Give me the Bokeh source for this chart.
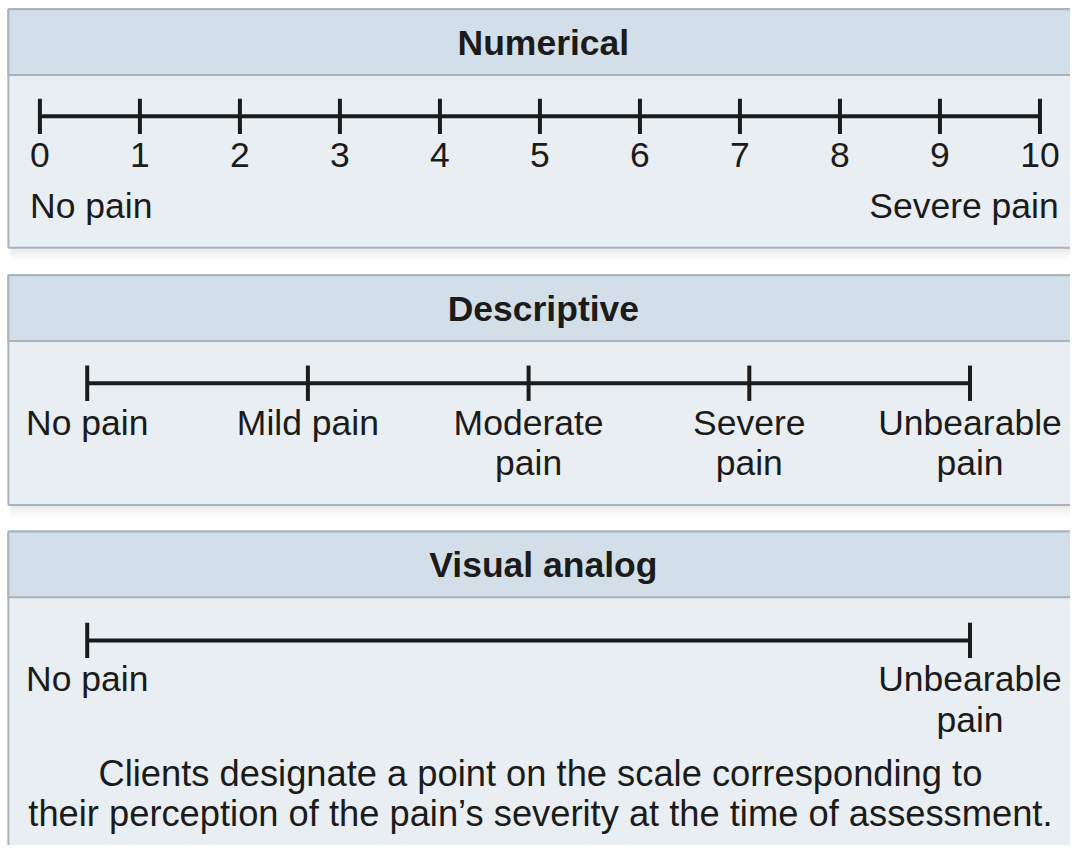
from bokeh.plotting import figure
from bokeh.models import Range1d
from bokeh.embed import file_html
from bokeh.resources import INLINE
from bokeh.core.properties import value

# ---------------- data ----------------
panel_titles = ["Numerical", "Descriptive", "Visual analog"]

numeric_values = [0, 1, 2, 3, 4, 5, 6, 7, 8, 9, 10]
numeric_labels = ["0", "1", "2", "3", "4", "5", "6", "7", "8", "9", "10"]
numeric_end_labels = ["No pain", "Severe pain"]

descriptive_levels = [0, 1, 2, 3, 4]
descriptive_line1 = ["No pain", "Mild pain", "Moderate", "Severe", "Unbearable"]
descriptive_line2 = ["", "", "pain", "pain", "pain"]

visual_ends = [0.0, 1.0]
visual_line1 = ["No pain", "Unbearable"]
visual_line2 = ["", "pain"]

footer_lines = [
    "Clients designate a point on the scale corresponding to",
    "their perception of the pain\u2019s severity at the time of assessment.",
]

# ---------------- style / layout ----------------
FONT = value("Liberation Sans")
INK = "#1b1b1b"
HEADER_FILL = "#d3dfe8"
BODY_FILL = "#e9eef2"
BORDER = "#a7b3bf"

W, H = 1070, 845
REF_W, REF_H = 1086, 861
S = W / REF_W
FS = f"{36 * S:.1f}px"
TFS = f"{36 * S:.1f}px"
FFS = f"{36.8 * S:.1f}px"

p = figure(width=W, height=H, x_range=Range1d(0, REF_W), y_range=Range1d(REF_H, 0),
           output_backend="svg", toolbar_location=None, min_border=0,
           background_fill_color="white", border_fill_color="white")
p.axis.visible = False
p.grid.visible = False
p.outline_line_color = None

# panels: (top, header bottom, bottom)
panels = [(9, 76, 252), (280, 347, 514), (541, 608, 900)]
for (top, hb, bot), title in zip(panels, panel_titles):
    for k, a in enumerate([0.05, 0.04, 0.03, 0.02]):
        p.quad(left=10, right=1100, top=bot, bottom=bot + 4 + 3 * k,
               fill_color="#7a7a7a", fill_alpha=a, line_color=None)
    p.quad(left=8, right=1100, top=top, bottom=bot, fill_color=BODY_FILL,
           line_color=BORDER, line_width=2)
    p.quad(left=8, right=1100, top=top, bottom=hb, fill_color=HEADER_FILL,
           line_color=BORDER, line_width=2)
    p.text(x=[551], y=[(top + hb) / 2 + 1], text=[title], text_font=FONT,
           text_font_style="bold", text_font_size=TFS, text_color=INK,
           text_align="center", text_baseline="middle")

LW = 4
TICK = 18

# ---- Numerical scale ----
nx0, nstep, ny = 40, 101.5, 118
nxs = [nx0 + v * nstep for v in numeric_values]
p.segment(x0=[nxs[0]], y0=[ny], x1=[nxs[-1]], y1=[ny], line_width=LW, line_color=INK)
p.segment(x0=nxs, y0=[ny - TICK] * len(nxs), x1=nxs, y1=[ny + TICK] * len(nxs),
          line_width=LW, line_color=INK)
p.text(x=nxs, y=[157] * len(nxs), text=numeric_labels, text_font=FONT, text_font_size=FS,
       text_color=INK, text_align="center", text_baseline="middle")
p.text(x=[30], y=[209], text=[numeric_end_labels[0]], text_font=FONT, text_font_size=FS,
       text_color=INK, text_align="left", text_baseline="middle")
p.text(x=[1074], y=[209], text=[numeric_end_labels[1]], text_font=FONT, text_font_size=FS,
       text_color=INK, text_align="right", text_baseline="middle")

# ---- Descriptive scale ----
dx0, dstep, dy = 88, 224, 390
dxs = [dx0 + i * dstep for i in descriptive_levels]
p.segment(x0=[dxs[0]], y0=[dy], x1=[dxs[-1]], y1=[dy], line_width=LW, line_color=INK)
p.segment(x0=dxs, y0=[dy - TICK] * len(dxs), x1=dxs, y1=[dy + TICK] * len(dxs),
          line_width=LW, line_color=INK)
p.text(x=dxs, y=[431] * len(dxs), text=descriptive_line1, text_font=FONT, text_font_size=FS,
       text_color=INK, text_align="center", text_baseline="middle")
p.text(x=dxs, y=[471] * len(dxs), text=descriptive_line2, text_font=FONT, text_font_size=FS,
       text_color=INK, text_align="center", text_baseline="middle")

# ---- Visual analog scale ----
vx0, vlen, vy = 88, 896, 652
vxs = [vx0 + t * vlen for t in visual_ends]
p.segment(x0=[vxs[0]], y0=[vy], x1=[vxs[-1]], y1=[vy], line_width=LW, line_color=INK)
p.segment(x0=vxs, y0=[vy - TICK] * 2, x1=vxs, y1=[vy + TICK] * 2,
          line_width=LW, line_color=INK)
p.text(x=vxs, y=[691] * 2, text=visual_line1, text_font=FONT, text_font_size=FS,
       text_color=INK, text_align="center", text_baseline="middle")
p.text(x=vxs, y=[733] * 2, text=visual_line2, text_font=FONT, text_font_size=FS,
       text_color=INK, text_align="center", text_baseline="middle")

p.text(x=[548, 548], y=[788, 828], text=footer_lines, text_font=FONT, text_font_size=FFS,
       text_color=INK, text_align="center", text_baseline="middle")

open("out.html", "w").write(file_html(p, INLINE))
